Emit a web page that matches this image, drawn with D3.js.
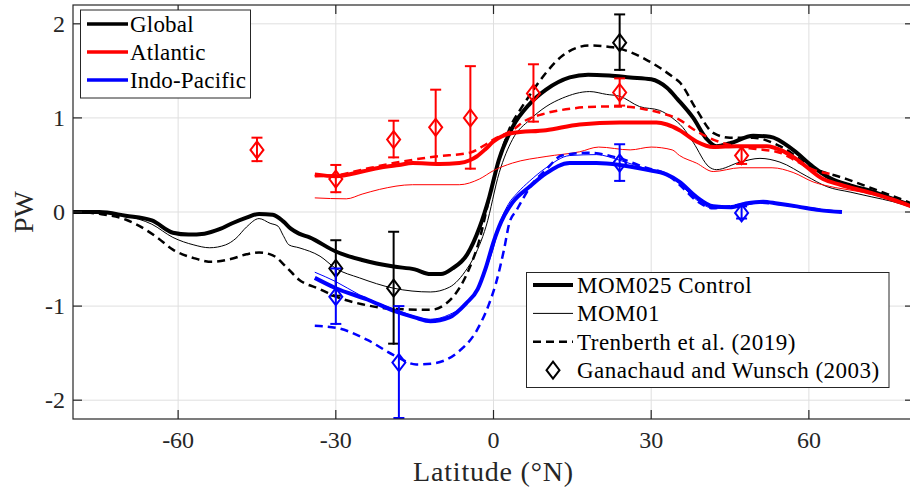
<!DOCTYPE html>
<html><head><meta charset="utf-8">
<script src="https://cdn.jsdelivr.net/npm/d3@7"></script>
<style>body{margin:0;background:#fff} svg{display:block}</style>
</head><body><svg id="c" width="910" height="490" font-family="'Liberation Serif', 'DejaVu Serif', serif"></svg>
<script>
// ---------- data ----------
const xTicks = [-60, -30, 0, 30, 60];
const yTicks = [-2, -1, 0, 1, 2];

// Global
const gLat025 = [-80,-75,-70,-65,-61,-58,-55,-52,-49.7,-47,-44.6,-42,-40,-38.5,-37,-35,-30,-25,-19,-15,-12,-10,-7.8,-5,-2.7,-0.8,1,3.6,6.9,10,14.5,18,22,26,30,33,35,38,40.5,42.4,45,49.4,52.6,57,60.8,64,68,72,76,80];
const g025    = [0,0,-0.04,-0.09,-0.22,-0.24,-0.23,-0.18,-0.12,-0.06,-0.02,-0.03,-0.1,-0.18,-0.23,-0.27,-0.42,-0.51,-0.58,-0.61,-0.66,-0.66,-0.6,-0.45,-0.17,0.16,0.55,0.9,1.15,1.3,1.43,1.46,1.45,1.43,1.41,1.32,1.2,1.0,0.78,0.7,0.73,0.81,0.8,0.66,0.48,0.36,0.28,0.22,0.14,0.06];
const gLat01 = [-80,-75,-70,-65,-61,-57,-54,-51,-49,-47,-44.6,-42.5,-41,-40,-38.9,-37,-33,-30,-25.5,-19,-12,-8.4,-5,-4,-1.4,1.1,3.6,6.9,10,13.1,18.3,21.5,24,27.8,31.6,34,36,38,41,42.4,46.9,50.7,54.5,59.6,63.4,68,72,76,80];
const g01    = [0,0,-0.04,-0.13,-0.27,-0.35,-0.38,-0.35,-0.28,-0.16,-0.07,-0.12,-0.15,-0.25,-0.35,-0.38,-0.47,-0.6,-0.7,-0.81,-0.85,-0.8,-0.6,-0.51,-0.15,0.42,0.77,0.98,1.12,1.21,1.28,1.25,1.23,1.12,1.08,1.0,0.9,0.74,0.48,0.45,0.53,0.57,0.53,0.38,0.27,0.21,0.16,0.11,0.04];
const gLatT = [-80,-75,-70,-68,-64,-61,-57,-53.5,-50,-47,-44.6,-42,-39.5,-37,-33,-30,-25,-19,-12,-8,-5,-2.7,-1,0.5,2,3,5,7,10,13.1,18.3,22.7,26,29,32,34,35.4,38.6,41.8,45,49.4,54.5,60.8,67.2,73.5,78.7,80];
const gTren  = [0,-0.02,-0.08,-0.13,-0.27,-0.4,-0.49,-0.53,-0.5,-0.45,-0.43,-0.46,-0.58,-0.72,-0.82,-0.9,-0.98,-1.03,-1.04,-0.92,-0.65,-0.3,0.1,0.45,0.72,0.88,1.08,1.25,1.48,1.66,1.77,1.75,1.7,1.62,1.52,1.44,1.38,1.09,0.84,0.79,0.79,0.7,0.47,0.35,0.22,0.11,0.08];

// Atlantic
const aLat025 = [-34,-30,-25,-21.7,-18,-15.4,-10.3,-6.5,-4.5,-3.2,-1.5,0,3.6,10,16.4,24,31,33,35.4,38.6,41.8,46.3,52,55,57.7,62.7,66,72,76,80];
const a025    = [0.40,0.38,0.43,0.47,0.5,0.52,0.51,0.52,0.55,0.59,0.67,0.75,0.84,0.87,0.93,0.95,0.95,0.93,0.87,0.75,0.69,0.70,0.70,0.65,0.56,0.35,0.29,0.2,0.13,0.05];
const aLat01 = [-34,-28,-25,-21.7,-15.4,-6.5,-2.7,0,3.6,10,16.4,20,26,30,34,35.4,38.6,41.8,46.9,53,57,60.8,65,70.3,75,80];
const a01    = [0.15,0.14,0.19,0.24,0.29,0.29,0.35,0.44,0.52,0.59,0.64,0.69,0.66,0.69,0.66,0.6,0.52,0.43,0.47,0.47,0.42,0.32,0.26,0.21,0.14,0.04];
const aLatT = [-34,-30,-25,-19,-11,-4.5,-2,0,3.6,6,10,15,20,25,29,32,35.4,38,41.8,46.9,50,54.5,57,60.8,64.6];
const aTren  = [0.38,0.39,0.45,0.52,0.59,0.63,0.7,0.77,0.87,0.97,1.05,1.1,1.12,1.12,1.09,1.05,0.98,0.88,0.77,0.69,0.67,0.63,0.56,0.45,0.40];

// Indo-Pacific
const pLat025 = [-34,-30,-24,-18.5,-15,-12,-8.4,-5.2,-3,-1.5,0,1.5,3.6,6.9,10,14.5,19.6,24,29,32.9,35.4,38.6,41.8,45,48,51.3,54,57.7,62,66.3];
const p025    = [-0.70,-0.81,-0.93,-1.06,-1.12,-1.16,-1.12,-0.97,-0.82,-0.6,-0.32,-0.1,0.10,0.27,0.41,0.52,0.52,0.50,0.45,0.40,0.32,0.16,0.06,0.05,0.09,0.11,0.09,0.06,0.02,0.0];
const pLat01 = [-34,-30,-25.5,-18.5,-12,-8.4,-4,-2,0,1.2,2.8,4.5,6.9,10,14.5,19.6,24,29,33,35.4,38.6,41.8,45,51,57.7,62,66.3];
const p01    = [-0.64,-0.74,-0.88,-1.04,-1.14,-1.09,-0.90,-0.68,-0.38,-0.12,0.08,0.2,0.33,0.47,0.6,0.61,0.55,0.46,0.40,0.30,0.13,0.04,0.04,0.1,0.05,0.02,0.0];
const pLatT = [-34,-30,-24,-19,-14.7,-11.6,-7,-3.2,-1,0.5,2,3,4.4,5,7,10,13,18,24,29,33,35.4,38.6,41.8,45,50,55,60,66];
const pTren  = [-1.21,-1.23,-1.36,-1.52,-1.62,-1.61,-1.50,-1.26,-1.0,-0.75,-0.4,-0.12,0.02,0.08,0.27,0.45,0.6,0.63,0.57,0.47,0.40,0.29,0.12,0.04,0.06,0.1,0.08,0.04,0.0];

// Ganachaud and Wunsch (2003)
const gwGlobalLat = [-30, -19, 24];
const gwGlobal    = [-0.60, -0.81, 1.80];
const gwGlobalErr = [0.30, 0.60, 0.30];
const gwAtlLat = [-45, -30, -19, -11, -4.4, 7.6, 24, 47.2];
const gwAtl    = [0.66, 0.35, 0.77, 0.90, 1.00, 1.26, 1.27, 0.60];
const gwAtlErr = [0.13, 0.15, 0.20, 0.40, 0.55, 0.31, 0.15, 0.10];
const gwPacLat = [-30, -18, 24, 47.2];
const gwPac    = [-0.90, -1.60, 0.52, -0.01];
const gwPacErr = [0.30, 0.60, 0.20, 0.07];

const basinNames = ["Global", "Atlantic", "Indo-Pacific"];
const sourceNames = ["MOM025 Control", "MOM01", "Trenberth et al. (2019)", "Ganachaud and Wunsch (2003)"];

// ---------- chart ----------
const FONT = "'Liberation Serif', 'DejaVu Serif', serif";
const svg = d3.select("#c");
const L = 73, R = 914, T = 5, B = 419;
const x = d3.scaleLinear().domain([-80, 80]).range([L, R]);
const y = d3.scaleLinear().domain([-2.2, 2.2]).range([B, T]);
const axisCol = "#262626";

svg.append("defs").append("clipPath").attr("id", "clip")
  .append("rect").attr("x", L).attr("y", T).attr("width", R - L).attr("height", B - T);

// grid
const grid = svg.append("g").attr("stroke", "#dfdfdf").attr("stroke-width", 1);
xTicks.forEach(t => grid.append("line").attr("x1", x(t)).attr("x2", x(t)).attr("y1", T).attr("y2", B));
yTicks.forEach(t => grid.append("line").attr("y1", y(t)).attr("y2", y(t)).attr("x1", L).attr("x2", R));

// lines
const line = d3.line().curve(d3.curveMonotoneX).x(d => x(d[0])).y(d => y(d[1]));
const plot = svg.append("g").attr("clip-path", "url(#clip)");
const series = [
  [gLat025, g025, "#000", 4, null], [gLat01, g01, "#000", 1, null], [gLatT, gTren, "#000", 2.5, "8,5"],
  [aLat025, a025, "#ff0000", 4, null], [aLat01, a01, "#ff0000", 1, null], [aLatT, aTren, "#ff0000", 2.5, "8,5"],
  [pLat025, p025, "#0000ff", 4, null], [pLat01, p01, "#0000ff", 1, null], [pLatT, pTren, "#0000ff", 2.5, "8,5"]
];
series.forEach(([la, v, c, w, dash]) => {
  plot.append("path").datum(la.map((l, i) => [l, v[i]]))
    .attr("d", line).attr("fill", "none").attr("stroke", c).attr("stroke-width", w)
    .attr("stroke-dasharray", dash).attr("stroke-linejoin", "round");
});

// error bars + diamonds
function diamond(g, cx, cy, c) {
  g.append("path").attr("d", `M${cx},${cy - 8.5}L${cx + 6.5},${cy}L${cx},${cy + 8.5}L${cx - 6.5},${cy}Z`)
    .attr("fill", "none").attr("stroke", c).attr("stroke-width", 2);
}
function errbars(la, v, e, c) {
  const g = plot.append("g").attr("stroke", c).attr("stroke-width", 2);
  la.forEach((l, i) => {
    const cx = x(l), top = y(v[i] + e[i]), bot = y(v[i] - e[i]);
    g.append("line").attr("x1", cx).attr("x2", cx).attr("y1", top).attr("y2", bot);
    g.append("line").attr("x1", cx - 5.5).attr("x2", cx + 5.5).attr("y1", top).attr("y2", top);
    g.append("line").attr("x1", cx - 5.5).attr("x2", cx + 5.5).attr("y1", bot - 1).attr("y2", bot - 1);
    diamond(g, cx, y(v[i]), c);
  });
}
errbars(gwGlobalLat, gwGlobal, gwGlobalErr, "#000");
errbars(gwAtlLat, gwAtl, gwAtlErr, "#ff0000");
errbars(gwPacLat, gwPac, gwPacErr, "#0000ff");

// axes box & ticks
const ax = svg.append("g").attr("stroke", axisCol).attr("stroke-width", 1.2);
ax.append("rect").attr("x", L).attr("y", T).attr("width", R - L).attr("height", B - T).attr("fill", "none");
xTicks.forEach(t => {
  ax.append("line").attr("x1", x(t)).attr("x2", x(t)).attr("y1", B).attr("y2", B - 9);
  ax.append("line").attr("x1", x(t)).attr("x2", x(t)).attr("y1", T).attr("y2", T + 9);
});
yTicks.forEach(t => {
  ax.append("line").attr("y1", y(t)).attr("y2", y(t)).attr("x1", L).attr("x2", L + 9);
  ax.append("line").attr("y1", y(t)).attr("y2", y(t)).attr("x1", R).attr("x2", R - 9);
});
const tl = svg.append("g").attr("fill", axisCol).attr("font-size", 24).attr("font-family", FONT);
xTicks.forEach(t => tl.append("text").attr("x", x(t)).attr("y", 448).attr("text-anchor", "middle").text(t));
yTicks.forEach(t => tl.append("text").attr("x", 65).attr("y", y(t) + 8).attr("text-anchor", "end").text(t));

svg.append("text").attr("x", (L + R) / 2).attr("y", 481).attr("text-anchor", "middle").attr("font-family", FONT)
  .attr("font-size", 28).attr("letter-spacing", 0.8).attr("fill", axisCol).text("Latitude (°N)");
svg.append("text").attr("transform", `translate(33,${(T + B) / 2}) rotate(-90)`).attr("text-anchor", "middle")
  .attr("font-family", FONT).attr("font-size", 28).attr("fill", axisCol).text("PW");

// legend 1
const lg1 = svg.append("g").attr("font-family", FONT);
lg1.append("rect").attr("x", 80.5).attr("y", 10).attr("width", 170).attr("height", 88)
  .attr("fill", "#fff").attr("stroke", axisCol).attr("stroke-width", 1);
const basinCols = ["#000", "#ff0000", "#0000ff"];
basinNames.forEach((n, i) => {
  const yy = 24 + i * 28;
  lg1.append("line").attr("x1", 87).attr("x2", 128).attr("y1", yy).attr("y2", yy)
    .attr("stroke", basinCols[i]).attr("stroke-width", 3.5);
  lg1.append("text").attr("x", 130).attr("y", yy + 8).attr("font-size", 23).attr("letter-spacing", 0.2)
    .attr("fill", "#000").text(n);
});

// legend 2
const lg2 = svg.append("g").attr("font-family", FONT);
lg2.append("rect").attr("x", 526.5).attr("y", 272.5).attr("width", 362.5).attr("height", 115)
  .attr("fill", "#fff").attr("stroke", axisCol).attr("stroke-width", 1);
const styles = [[4, null], [1, null], [2.5, "8,5"], null];
sourceNames.forEach((n, i) => {
  const yy = 285 + i * 28.4;
  if (styles[i]) {
    lg2.append("line").attr("x1", 533).attr("x2", 573).attr("y1", yy).attr("y2", yy)
      .attr("stroke", "#000").attr("stroke-width", styles[i][0]).attr("stroke-dasharray", styles[i][1]);
  } else {
    diamond(lg2, 553, yy, "#000");
  }
  lg2.append("text").attr("x", 577).attr("y", yy + 8).attr("font-size", 23).attr("letter-spacing", 0.5)
    .attr("fill", "#000").text(n);
});
</script></body></html>
